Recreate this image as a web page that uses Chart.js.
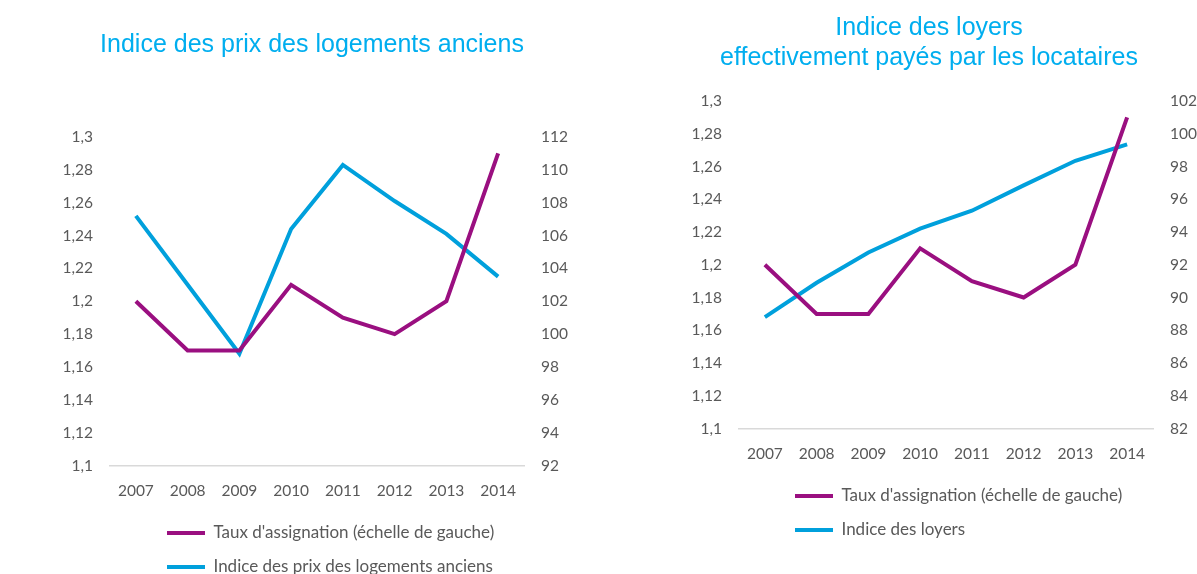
<!DOCTYPE html>
<html>
<head>
<meta charset="utf-8">
<script src="https://cdn.jsdelivr.net/npm/chart.js@4/dist/chart.umd.min.js"></script>
<style>
html, body { margin: 0; padding: 0; background: #fff; overflow: hidden; width: 1197px; height: 574px; }
.box { position: absolute; top: 0; }
</style>
</head>
<body>
<div class="box" style="left:0"><canvas id="prix" width="624" height="600"></canvas></div>
<div class="box" style="left:600px"><canvas id="loyers" width="658" height="574"></canvas></div>
<script>
// données
const years = ['2007', '2008', '2009', '2010', '2011', '2012', '2013', '2014'];
const tauxAssignation = [1.20, 1.17, 1.17, 1.21, 1.19, 1.18, 1.20, 1.29];
const indicePrix = [107.2, 103.0, 98.8, 106.4, 110.3, 108.1, 106.1, 103.5];
const indiceLoyers = [88.8, 90.9, 92.75, 94.2, 95.3, 96.85, 98.35, 99.35];

// axes : min, max, pas
const tauxAxis = [1.1, 1.3, 0.02];
const prixAxis = [92, 112, 2];
const loyersAxis = [82, 102, 2];

const PURPLE = '#9a0f80';
const BLUE = '#00a0dc';
const GREY = '#595959';

Chart.defaults.font.family = 'Lato, "Open Sans", sans-serif';
Chart.defaults.font.size = 15.5;
Chart.defaults.color = GREY;

const frNum = (v) => v.toLocaleString('fr-FR', { maximumFractionDigits: 2 });

// décale la légende vers la droite (lignes alignées à gauche)
const legendShift = {
    id: 'legendShift',
    afterLayout(chart, args, opts) {
        const lg = chart.legend;
        if (lg) { lg.left += opts.dx; lg.right += opts.dx; }
    }
};

function makeChart(id, titleText, titlePad, secondLabel, secondData, rightAxis, sizes) {
    return new Chart(document.getElementById(id), {
        type: 'line',
        data: {
            labels: years,
            datasets: [
                {
                    label: "Taux d'assignation (échelle de gauche)",
                    data: tauxAssignation,
                    borderColor: PURPLE,
                    backgroundColor: PURPLE,
                    borderWidth: 4,
                    pointRadius: 0,
                    tension: 0,
                    yAxisID: 'y'
                },
                {
                    label: secondLabel,
                    data: secondData,
                    borderColor: BLUE,
                    backgroundColor: BLUE,
                    borderWidth: 4,
                    pointRadius: 0,
                    tension: 0,
                    yAxisID: 'y1'
                }
            ]
        },
        options: {
            responsive: false,
            animation: false,
            locale: 'fr-FR',
            layout: { padding: { left: 0, right: 0, top: 0, bottom: sizes.padBottom } },
            scales: {
                x: {
                    offset: true,
                    grid: { display: false, drawTicks: false },
                    border: { display: true, color: '#d9d9d9', width: 1.5 },
                    ticks: { padding: 16 },
                    afterFit: (s) => { s.height = 42; }
                },
                y: {
                    position: 'left',
                    min: tauxAxis[0],
                    max: tauxAxis[1],
                    grid: { display: false, drawTicks: false },
                    border: { display: false },
                    ticks: { stepSize: tauxAxis[2], padding: 17, callback: frNum },
                    afterFit: (s) => { s.width = sizes.leftW; }
                },
                y1: {
                    position: 'right',
                    min: rightAxis[0],
                    max: rightAxis[1],
                    grid: { display: false, drawTicks: false },
                    border: { display: false },
                    ticks: { stepSize: rightAxis[2], padding: 17, callback: frNum },
                    afterFit: (s) => { s.width = sizes.rightW; }
                }
            },
            plugins: {
                title: {
                    display: true,
                    text: titleText,
                    color: '#00aeef',
                    font: { family: '"Liberation Sans", Arial, sans-serif', size: 25, weight: 'normal', lineHeight: 1.2 },
                    padding: titlePad
                },
                legend: {
                    position: 'bottom',
                    align: 'start',
                    fullSize: false,
                    labels: {
                        usePointStyle: true,
                        pointStyle: 'line',
                        pointStyleWidth: 38,
                        boxHeight: 14,
                        padding: 17,
                        color: GREY,
                        font: { size: 17 }
                    }
                },
                legendShift: { dx: sizes.dx },
                tooltip: { enabled: false }
            }
        },
        plugins: [legendShift]
    });
}

makeChart('prix', 'Indice des prix des logements anciens', { top: 30, bottom: 77 },
    'Indice des prix des logements anciens', indicePrix, prixAxis,
    { leftW: 110, rightW: 100, padBottom: 14.5, dx: 40 });

makeChart('loyers', ['Indice des loyers', 'effectivement payés par les locataires'], { top: 13, bottom: 28 },
    'Indice des loyers', indiceLoyers, loyersAxis,
    { leftW: 139, rightW: 105, padBottom: 25.5, dx: 39 });
</script>
</body>
</html>
